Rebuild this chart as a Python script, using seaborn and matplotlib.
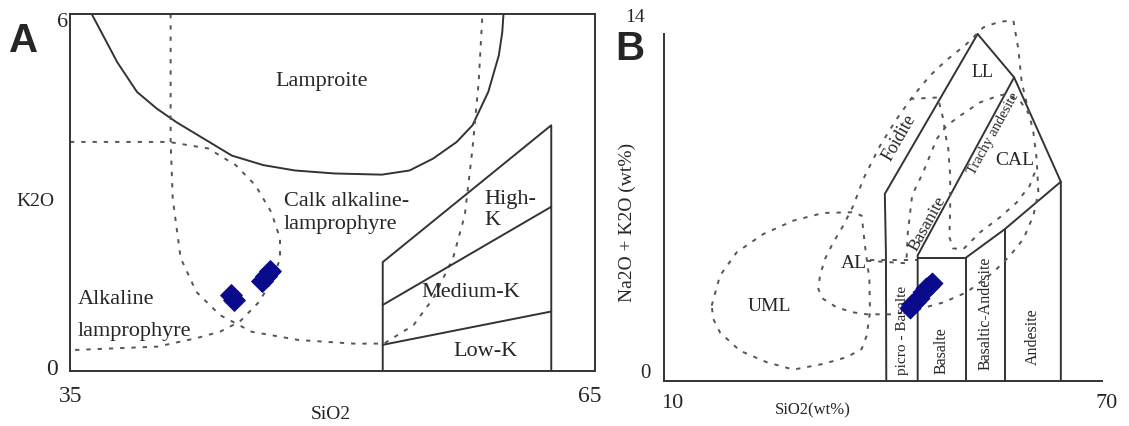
import seaborn as sns
import matplotlib.pyplot as plt

sns.set_style("white")
plt.rcParams['font.family'] = ['Liberation Serif', 'DejaVu Serif']

# ---------------- Panel A : K2O vs SiO2 ----------------
lamproite_x = [36.24, 36.8, 37.7, 38.83, 39.96, 41.09, 42.67, 44.25, 46.05, 47.86,
               50.11, 52.82, 54.4, 55.75, 57.1, 58.0, 58.9, 59.5, 59.7, 59.77]
lamproite_y = [6.0, 5.69, 5.19, 4.69, 4.41, 4.18, 3.90, 3.62, 3.46, 3.37,
               3.32, 3.30, 3.37, 3.57, 3.85, 4.13, 4.69, 5.30, 5.69, 6.0]

calk_x = [40.75, 40.75, 40.87, 41.32, 42.22, 43.57, 45.38, 48.08, 51.24, 52.93,
          54.63, 55.75, 56.88, 57.56, 58.0, 58.35, 58.57]
calk_y = [6.0, 3.85, 2.90, 1.90, 1.33, 0.94, 0.66, 0.52, 0.46, 0.46,
          0.77, 1.22, 1.89, 2.62, 3.74, 4.85, 6.0]

alk_x = [35.0, 40.64, 42.9, 44.47, 45.6, 46.5, 47.0, 47.0, 46.6, 45.8,
         44.7, 43.57, 42.2, 40.0, 35.0]
alk_y = [3.85, 3.85, 3.74, 3.46, 3.12, 2.67, 2.23, 1.89, 1.55, 1.16,
         0.83, 0.66, 0.55, 0.41, 0.35]

# K-series fields
kbox_x = [52.87, 52.87, 62.5, 62.5]
kbox_y = [0.0, 1.83, 4.13, 0.0]
medk_x = [52.87, 62.5]
medk_y = [1.11, 2.76]
lowk_x = [52.87, 62.5]
lowk_y = [0.44, 1.0]

samples_a_x = [44.2, 44.35, 45.95, 46.2, 46.45]
samples_a_y = [1.28, 1.20, 1.52, 1.60, 1.68]

# ---------------- Panel B : TAS ----------------
tas_lines = {
    "foidite_left": ([40.45, 40.4, 40.25, 52.96], [0.0, 5.18, 7.55, 14.0]),
    "top_right": ([52.96, 57.96, 64.36, 64.36], [14.0, 12.25, 8.04, 0.0]),
    "basanite": ([44.75, 44.75, 57.96], [0.0, 5.07, 12.25]),
    "basalt_top": ([44.75, 51.38, 51.38], [4.98, 4.98, 0.0]),
    "andesite_top": ([51.38, 56.66, 64.36], [4.98, 6.12, 8.04]),
    "bas_and": ([56.66, 56.66], [6.12, 0.0]),
}

uml_x = [16.53, 17.67, 19.95, 23.61, 27.72, 31.83, 35.93, 37.08, 37.53, 38.13,
         38.22, 37.76, 37.08, 35.02, 31.83, 27.72, 24.06, 20.41, 17.67, 16.76, 16.53]
uml_y = [3.04, 4.25, 5.19, 5.93, 6.47, 6.78, 6.81, 6.67, 5.46, 4.12,
         2.77, 1.83, 1.29, 0.96, 0.69, 0.46, 0.76, 1.22, 1.96, 2.50, 3.04]

outer_x = [44.15, 41.05, 37.8, 35.93, 33.65, 31.82, 31.14, 31.37, 32.05, 33.19,
           34.56, 35.93, 37.3, 37.76, 39.59, 41.87, 44.15, 46.44, 48.6, 51.46,
           53.75, 56.03, 57.86, 58.54, 59.0, 59.77, 60.6, 61.05, 61.28, 60.6,
           59.23, 57.4, 55.1, 51.46, 48.27, 44.15]
outer_y = [2.81, 2.69, 2.69, 2.77, 2.97, 3.31, 3.71, 4.25, 4.92, 5.59,
           6.27, 7.07, 8.15, 8.42, 9.49, 10.57, 11.51, 12.32, 12.92, 13.6,
           14.27, 14.5, 14.54, 13.39, 12.05, 11.1, 10.03, 8.96, 7.61, 6.67,
           5.73, 5.06, 4.38, 3.58, 3.17, 2.84]

inner1_x = [37.8, 43.2, 43.4, 44.0, 45.5, 47.35, 48.72, 50.55, 53.29, 55.8,
            56.94, 58.8, 59.9]
inner1_y = [4.85, 4.75, 6.0, 7.5, 8.42, 9.76, 10.3, 10.7, 11.24, 11.51,
            11.58, 11.3, 10.8]

inner2_x = [43.7, 47.58, 47.8, 48.26, 48.5, 48.95, 49.2, 49.2, 49.1, 49.6,
            51.0, 53.3, 56.0, 58.3, 60.1, 61.05]
inner2_y = [11.38, 11.44, 11.1, 10.57, 10.03, 9.36, 8.3, 7.0, 5.8, 5.35,
            5.32, 6.0, 6.6, 7.2, 7.88, 8.62]

al_line_x = [38.2, 44.6]
al_line_y = [4.88, 4.88]

samples_b_x = [43.7, 44.0, 44.4, 44.9, 45.5, 45.9, 46.3, 46.7]
samples_b_y = [2.95, 3.1, 3.2, 3.35, 3.6, 3.75, 3.85, 3.95]

SOLID = "#333333"
DASH = "#555555"
NAVY = "#0a0a8c"


def draw(ax, xs, ys, dashed=False, clip=True):
    if dashed:
        sns.lineplot(x=xs, y=ys, ax=ax, sort=False, estimator=None, color=DASH,
                     lw=1.4, linestyle=(0, (2.2, 3.6)), clip_on=clip)
    else:
        sns.lineplot(x=xs, y=ys, ax=ax, sort=False, estimator=None, color=SOLID,
                     lw=1.4, clip_on=clip)


fig = plt.figure(figsize=(11.29, 4.27), dpi=100)

# ---- A ----
axA = fig.add_axes([70 / 1129, 1 - 372 / 427, 525 / 1129, 357 / 427])
draw(axA, lamproite_x, lamproite_y)
draw(axA, calk_x, calk_y, dashed=True)
draw(axA, alk_x, alk_y, dashed=True)
draw(axA, kbox_x, kbox_y)
draw(axA, medk_x, medk_y)
draw(axA, lowk_x, lowk_y)
sns.scatterplot(x=samples_a_x, y=samples_a_y, ax=axA, marker="D", s=120,
                color=NAVY, edgecolor=NAVY, zorder=5)
axA.set_xlim(35, 65)
axA.set_ylim(0, 6)
axA.set_xticks([])
axA.set_yticks([])
for sp in axA.spines.values():
    sp.set_color(SOLID)
    sp.set_linewidth(1.4)

fs = 16
axA.text(49.4, 4.88, "Lamproite", ha="center", va="center", fontsize=fs)
axA.text(47.2, 2.87, "Calk alkaline-", ha="left", va="center", fontsize=fs)
axA.text(47.2, 2.48, "lamprophyre", ha="left", va="center", fontsize=fs)
axA.text(58.7, 2.90, "High-", ha="left", va="center", fontsize=fs)
axA.text(58.7, 2.55, "K", ha="left", va="center", fontsize=fs)
axA.text(55.1, 1.33, "Medium-K", ha="left", va="center", fontsize=fs)
axA.text(56.9, 0.35, "Low-K", ha="left", va="center", fontsize=fs)
axA.text(35.45, 1.22, "Alkaline", ha="left", va="center", fontsize=fs)
axA.text(35.45, 0.68, "lamprophyre", ha="left", va="center", fontsize=fs)

axA.text(35.05, -0.42, "35", ha="center", va="center", fontsize=17, clip_on=False)
axA.text(64.7, -0.42, "65", ha="center", va="center", fontsize=17, clip_on=False)
axA.text(34.3, 0.05, "0", ha="right", va="center", fontsize=17, clip_on=False)
axA.text(34.9, 5.87, "6", ha="right", va="center", fontsize=16, clip_on=False)
fig.text(0.293, 0.03, "SiO2", ha="center", va="center", fontsize=14)
fig.text(0.0145, 0.529, "K2O", ha="left", va="center", fontsize=14)
fig.text(0.008, 0.905, "A", ha="left", va="center", fontsize=29,
         fontweight="bold", family="Liberation Sans")

# ---- B ----
axB = fig.add_axes([664 / 1129, 1 - 382 / 427, 438 / 1129, 347 / 427])
for xs, ys in tas_lines.values():
    draw(axB, xs, ys, clip=False)
draw(axB, uml_x, uml_y, dashed=True, clip=False)
draw(axB, outer_x, outer_y, dashed=True, clip=False)
draw(axB, inner1_x, inner1_y, dashed=True, clip=False)
draw(axB, inner2_x, inner2_y, dashed=True, clip=False)
draw(axB, al_line_x, al_line_y, dashed=True, clip=False)
sns.scatterplot(x=samples_b_x, y=samples_b_y, ax=axB, marker="D", s=110,
                color=NAVY, edgecolor=NAVY, zorder=5)
axB.set_xlim(10, 70)
axB.set_ylim(0, 14)
axB.set_xticks([])
axB.set_yticks([])
for side in ["top", "right"]:
    axB.spines[side].set_visible(False)
for side in ["left", "bottom"]:
    axB.spines[side].set_color(SOLID)
    axB.spines[side].set_linewidth(1.4)

axB.text(53.6, 12.5, "LL", ha="center", va="center", fontsize=13)
axB.text(58.0, 8.95, "CAL", ha="center", va="center", fontsize=14)
axB.text(35.95, 4.78, "AL", ha="center", va="center", fontsize=14)
axB.text(24.4, 3.03, "UML", ha="center", va="center", fontsize=14)
axB.text(42.3, 9.85, "Foidite", ha="center", va="center", fontsize=13,
         rotation=60, rotation_mode="anchor")
axB.text(46.1, 6.4, "Basanite", ha="center", va="center", fontsize=12.5,
         rotation=61, rotation_mode="anchor")
axB.text(55.2, 10.0, "Trachy andesite", ha="center", va="center", fontsize=10.5,
         rotation=61, rotation_mode="anchor")
axB.text(42.7, 2.09, "picro - Basalte", ha="center", va="center", fontsize=11,
         rotation=90)
axB.text(48.0, 1.28, "Basalte", ha="center", va="center", fontsize=11.5,
         rotation=90)
axB.text(54.0, 2.76, "Basaltic-Andesite", ha="center", va="center", fontsize=11.5,
         rotation=90)
axB.text(60.5, 1.82, "Andesite", ha="center", va="center", fontsize=11.5,
         rotation=90)

axB.text(11.1, -0.85, "10", ha="center", va="center", fontsize=16, clip_on=False)
axB.text(70.7, -0.85, "70", ha="center", va="center", fontsize=16, clip_on=False)
axB.text(7.4, 0.36, "0", ha="center", va="center", fontsize=15, clip_on=False)
axB.text(6.0, 14.72, "14", ha="center", va="center", fontsize=14, clip_on=False)
fig.text(0.72, 0.04, "SiO2(wt%)", ha="center", va="center", fontsize=12)
fig.text(0.556, 0.48, "Na2O + K2O (wt%)", ha="center", va="center", fontsize=14,
         rotation=90)
fig.text(0.545, 0.885, "B", ha="left", va="center", fontsize=29,
         fontweight="bold", family="Liberation Sans")

fig.savefig("out.png", dpi=100, facecolor="white")
